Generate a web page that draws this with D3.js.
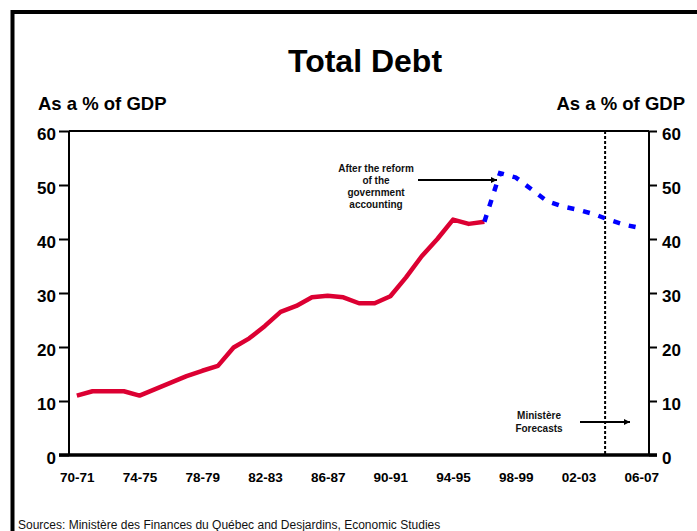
<!DOCTYPE html>
<html>
<head>
<meta charset="utf-8">
<script src="https://cdn.jsdelivr.net/npm/d3@7"></script>
<style>
  html, body { margin: 0; padding: 0; background: #fff; }
  svg { display: block; font-family: "Liberation Sans", Arial, sans-serif; }
</style>
</head>
<body>
<svg id="chart" width="697" height="531"></svg>
<script>
// Fiscal years on the horizontal axis
const years = ["70-71","71-72","72-73","73-74","74-75","75-76","76-77","77-78","78-79","79-80",
               "80-81","81-82","82-83","83-84","84-85","85-86","86-87","87-88","88-89","89-90",
               "90-91","91-92","92-93","93-94","94-95","95-96","96-97","97-98","98-99","99-00",
               "00-01","01-02","02-03","03-04","04-05","05-06","06-07"];
const tickYears = ["70-71","74-75","78-79","82-83","86-87","90-91","94-95","98-99","02-03","06-07"];
const yTicks = [0, 10, 20, 30, 40, 50, 60];

// Total debt, % of GDP, before the accounting reform (70-71 to 96-97)
const debtOld = [11.0, 11.8, 11.8, 11.8, 11.0, 12.2, 13.4, 14.6, 15.6, 16.5,
                 19.9, 21.6, 23.9, 26.5, 27.6, 29.2, 29.5, 29.2, 28.1, 28.1,
                 29.4, 32.9, 36.8, 40.0, 43.6, 42.8, 43.2];
// After the reform of government accounting (96-97 to 06-07)
const debtNewYears = years.slice(26);
const debtNew = [43.2, 52.2, 51.4, 49.2, 47.0, 46.0, 45.4, 44.6, 43.5, 42.6, 42.0];

const forecastFrom = "04-05";

const svg = d3.select("#chart");
const plotL = 69, plotR = 649, plotT = 131, plotB = 455;

const x = d3.scalePoint().domain(years).range([plotL, plotR]).padding(0.5);
const y = d3.scaleLinear().domain([0, 60]).range([plotB, plotT]);

// Outer frame (top and left rules)
svg.append("path")
  .attr("d", `M12.5,531 V12 H697`)
  .attr("fill", "none").attr("stroke", "#000").attr("stroke-width", 4);

// Title
svg.append("text").attr("x", 365).attr("y", 72)
  .attr("text-anchor", "middle").attr("font-size", 32).attr("font-weight", "bold")
  .text("Total Debt");

svg.append("text").attr("x", 38).attr("y", 110)
  .attr("font-size", 18.5).attr("font-weight", "bold").text("As a % of GDP");
svg.append("text").attr("x", 685).attr("y", 110).attr("text-anchor", "end")
  .attr("font-size", 18.5).attr("font-weight", "bold").text("As a % of GDP");

// Left and right value axes
const yLeft = d3.axisLeft(y).tickValues(yTicks).tickSize(10).tickPadding(3);
const yRight = d3.axisRight(y).tickValues(yTicks).tickSize(8).tickPadding(5);

function styleAxis(g) {
  g.select(".domain").remove();
  g.selectAll(".tick line").attr("stroke", "#000").attr("stroke-width", 2);
  g.selectAll(".tick text").attr("font-size", 17).attr("font-weight", "bold")
    .attr("fill", "#000").attr("font-family", "Liberation Sans, Arial, sans-serif")
    .attr("dy", "0.5em");
}
svg.append("g").attr("transform", `translate(${plotL},0)`).call(yLeft).call(styleAxis);
svg.append("g").attr("transform", `translate(${plotR},0)`).call(yRight).call(styleAxis);

// Plot box
svg.append("line").attr("x1", plotL).attr("x2", plotL).attr("y1", plotT).attr("y2", plotB)
  .attr("stroke", "#000").attr("stroke-width", 2);
svg.append("line").attr("x1", plotR).attr("x2", plotR).attr("y1", plotT).attr("y2", plotB)
  .attr("stroke", "#000").attr("stroke-width", 2);
svg.append("line").attr("x1", plotL).attr("x2", plotR).attr("y1", plotT).attr("y2", plotT)
  .attr("stroke", "#000").attr("stroke-width", 2);

// Category axis
const xAxis = d3.axisBottom(x).tickValues(tickYears).tickSize(0).tickPadding(17);
svg.append("g").attr("transform", `translate(0,${plotB})`).call(xAxis)
  .call(g => {
    g.select(".domain").remove();
    g.selectAll(".tick text").attr("font-size", 13.5).attr("font-weight", "bold")
      .attr("fill", "#000").attr("font-family", "Liberation Sans, Arial, sans-serif");
  });

// Forecast divider
const step = x.step();
const xf = x(forecastFrom) - step * 0.3;
svg.append("line").attr("x1", xf).attr("x2", xf).attr("y1", plotT).attr("y2", plotB)
  .attr("stroke", "#000").attr("stroke-width", 2).attr("stroke-dasharray", "3,2");

// Series
const line = d3.line().x(d => x(d[0])).y(d => y(d[1]));
svg.append("path")
  .datum(years.slice(0, debtOld.length).map((yr, i) => [yr, debtOld[i]]))
  .attr("d", line).attr("fill", "none").attr("stroke", "#dc0032")
  .attr("stroke-width", 4.5).attr("stroke-linejoin", "round");
svg.append("path")
  .datum(debtNewYears.map((yr, i) => [yr, debtNew[i]]))
  .attr("d", line).attr("fill", "none").attr("stroke", "#0000ff")
  .attr("stroke-width", 4.5).attr("stroke-dasharray", "7,9");

// Bottom axis rule over the plot
svg.append("line").attr("x1", plotL - 10).attr("x2", plotR + 8).attr("y1", plotB).attr("y2", plotB)
  .attr("stroke", "#000").attr("stroke-width", 3.5);

// Arrow head
svg.append("defs").append("marker")
  .attr("id", "head").attr("viewBox", "0 0 10 10").attr("refX", 10).attr("refY", 5)
  .attr("markerWidth", 10).attr("markerHeight", 6).attr("markerUnits", "userSpaceOnUse")
  .attr("orient", "auto")
  .append("path").attr("d", "M0,0 L10,5 L0,10 Z").attr("fill", "#000");

// Note on the accounting reform
const note = ["After the reform", "of the", "government", "accounting"];
svg.append("text").attr("x", 376).attr("y", 172).attr("text-anchor", "middle")
  .attr("font-size", 10).attr("font-weight", "bold").attr("fill", "#111")
  .selectAll("tspan").data(note).join("tspan")
  .attr("x", 376).attr("dy", (d, i) => i ? 12 : 0).text(d => d);
svg.append("line").attr("x1", 418).attr("x2", 497).attr("y1", 180).attr("y2", 180)
  .attr("stroke", "#000").attr("stroke-width", 2).attr("marker-end", "url(#head)");

// Forecast note
svg.append("text").attr("x", 539).attr("y", 419).attr("text-anchor", "middle")
  .attr("font-size", 10).attr("font-weight", "bold").attr("fill", "#111")
  .selectAll("tspan").data(["Ministère", "Forecasts"]).join("tspan")
  .attr("x", 539).attr("dy", (d, i) => i ? 12.5 : 0).text(d => d);
svg.append("line").attr("x1", 580).attr("x2", 630).attr("y1", 422).attr("y2", 422)
  .attr("stroke", "#000").attr("stroke-width", 2).attr("marker-end", "url(#head)");

// Sources
svg.append("text").attr("x", 18).attr("y", 529).attr("font-size", 12).attr("fill", "#111")
  .text("Sources: Ministère des Finances du Québec and Desjardins, Economic Studies");
</script>
</body>
</html>
